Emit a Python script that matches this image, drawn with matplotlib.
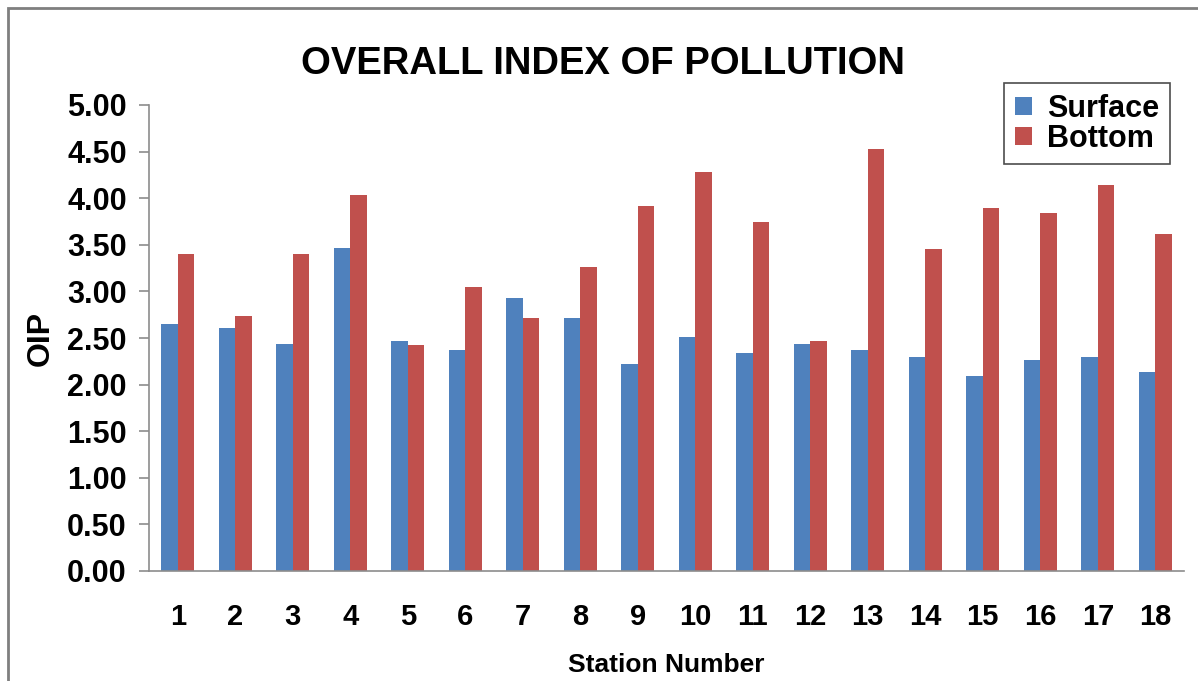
import matplotlib
matplotlib.use('Agg')
import matplotlib.pyplot as plt
import numpy as np
from matplotlib.patches import Rectangle

plt.rcParams['font.family'] = ['Liberation Sans', 'DejaVu Sans']
plt.rcParams['font.weight'] = 'bold'

# OIP values per station
stations = [str(i) for i in range(1, 19)]
surface = [2.65, 2.61, 2.44, 3.47, 2.47, 2.37, 2.93, 2.71, 2.22,
           2.51, 2.34, 2.44, 2.37, 2.30, 2.09, 2.26, 2.30, 2.13]
bottom = [3.40, 2.74, 3.40, 4.03, 2.42, 3.05, 2.71, 3.26, 3.92,
          4.28, 3.74, 2.47, 4.53, 3.45, 3.89, 3.84, 4.14, 3.62]
yticks = np.arange(0, 5.01, 0.5)

fig = plt.figure(figsize=(11.98, 6.81), dpi=100)
ax = fig.add_axes([149/1198, 1-571/681, (1184-149)/1198, (571-105)/681])

x = np.arange(len(stations))
w = 0.29
ax.bar(x - w/2, surface, w, color='#4F81BD', label='Surface')
ax.bar(x + w/2, bottom, w, color='#C0504D', label='Bottom')

ax.set_xlim(-0.5, len(stations) - 0.5)
ax.set_ylim(0, 5)
ax.set_yticks(yticks)
ax.set_yticklabels(['%.2f' % v for v in yticks], fontsize=22, fontweight='bold')
ax.set_xticks(x)
ax.set_xticklabels(stations, fontsize=21, fontweight='bold')
ax.tick_params(axis='x', length=0, pad=23)
ax.tick_params(axis='y', length=7, width=1.2, color='#8c8c8c', pad=9)

for s in ['top', 'right']:
    ax.spines[s].set_visible(False)
for s in ['left', 'bottom']:
    ax.spines[s].set_color('#8c8c8c')
    ax.spines[s].set_linewidth(1.2)

ax.set_ylabel('OIP', fontsize=23, fontweight='bold', labelpad=8)
ax.set_xlabel('Station Number', fontsize=19, fontweight='bold', labelpad=16)
fig.text(603/1198, 1-64/681, 'OVERALL INDEX OF POLLUTION', ha='center', va='center',
         fontsize=27.5, fontweight='bold')

leg = ax.legend(loc='upper right', bbox_to_anchor=(1170/1198, 1-83/681),
                bbox_transform=fig.transFigure, borderaxespad=0, fontsize=22,
                frameon=True, fancybox=False, handlelength=0.55, handleheight=0.55,
                handletextpad=0.5, borderpad=0.35, labelspacing=0.0)
leg.get_frame().set_edgecolor('#202020')
leg.get_frame().set_linewidth(1.2)
for t in leg.get_texts():
    t.set_fontweight('bold')

# chart frame
fig.patches.append(Rectangle((8/1198, -0.1), 1.2, 1-8/681+0.1, transform=fig.transFigure,
                             fill=False, edgecolor='#7f7f7f', linewidth=2))

fig.savefig('out.png', dpi=100)
